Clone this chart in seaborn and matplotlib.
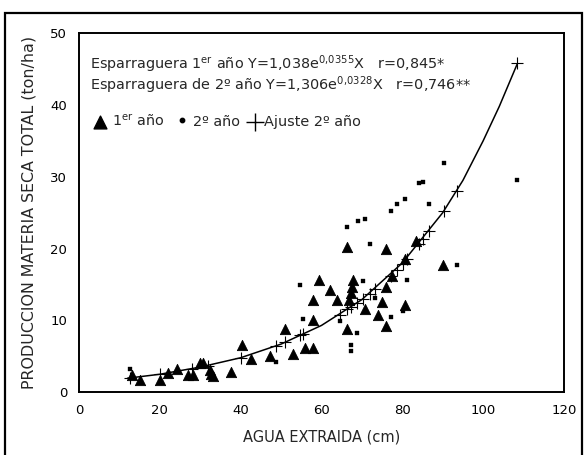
import numpy as np
import pandas as pd
import matplotlib
matplotlib.use("Agg")
import matplotlib.pyplot as plt
import seaborn as sns
from matplotlib.patches import Rectangle

# 1er año (triangles)
x_1 = [13.0, 15.1, 20.0, 22.1, 24.2, 27.0, 28.3, 30.0, 30.8, 32.4, 32.6, 33.2,
       37.6, 40.3, 42.6, 47.3, 51.0, 53.0, 55.9, 58.0, 57.8, 57.8, 59.5, 62.2,
       63.8, 66.3, 66.4, 66.7, 67.5, 67.7, 67.2, 70.8, 73.9, 74.9, 76.0, 76.0,
       76.0, 77.4, 80.7, 80.7, 83.5, 90.0]
y_1 = [2.4, 1.7, 1.7, 2.7, 3.3, 2.4, 2.4, 4.1, 4.0, 3.1, 2.6, 2.2,
       2.8, 6.6, 4.6, 5.1, 8.8, 5.3, 6.2, 6.2, 10.0, 12.8, 15.6, 14.2,
       12.9, 20.2, 8.8, 12.9, 14.6, 15.6, 13.8, 11.6, 10.8, 12.5, 20.0, 14.7,
       9.2, 16.2, 18.6, 12.2, 21.0, 17.7]

# 2º año (small squares)
x_2 = [12.6, 48.8, 54.6, 55.4, 64.5, 66.3, 67.2, 67.2, 68.8, 69.0, 70.2, 70.7,
       72.0, 73.2, 77.2, 77.2, 78.8, 80.1, 80.6, 81.1, 84.2, 85.2, 86.5, 90.3,
       93.5, 108.5]
y_2 = [3.3, 4.2, 14.9, 10.2, 9.9, 23.0, 6.6, 5.8, 8.25, 23.8, 15.5, 24.1,
       20.7, 13.1, 10.5, 25.3, 26.2, 11.3, 26.9, 15.6, 29.1, 29.3, 26.2, 31.9,
       17.7, 29.6]

# Ajuste 2º año (crosses on the curve)
x_fit = [12.6, 20.0, 28.0, 32.0, 40.0, 48.8, 51.0, 54.6, 55.4, 64.5, 66.3, 67.2,
         68.8, 70.2, 72.0, 73.2, 77.2, 78.8, 80.1, 81.1, 84.2, 85.2, 86.5, 90.3,
         93.5, 108.5]
y_fit = [2.0, 2.5, 3.3, 3.7, 4.8, 6.5, 7.0, 7.9, 8.1, 10.8, 11.6, 11.9,
         12.4, 13.0, 13.7, 14.4, 16.2, 17.0, 17.9, 18.6, 20.7, 21.4, 22.5, 25.2,
         28.0, 45.8]

# fitted curve read along its length
x_curve = [12.0, 20.0, 30.0, 40.0, 50.0, 60.0, 70.0, 80.0, 90.0, 95.0, 100.0, 104.0, 108.5]
y_curve = [1.95, 2.5, 3.5, 4.8, 6.7, 9.3, 12.9, 18.0, 25.0, 29.5, 35.0, 39.8, 45.8]

df1 = pd.DataFrame({"x": x_1, "y": y_1})
df2 = pd.DataFrame({"x": x_2, "y": y_2})
dff = pd.DataFrame({"x": x_fit, "y": y_fit})
dfc = pd.DataFrame({"x": x_curve, "y": y_curve})

sns.set_style("white")
plt.rcParams["font.family"] = ["DejaVu Sans"]
plt.rcParams["mathtext.default"] = "regular"

fig = plt.figure(figsize=(5.85, 4.55), dpi=100)
ax = fig.add_axes([0.135, 0.138, 0.829, 0.789])

sns.lineplot(data=dfc, x="x", y="y", color="black", lw=1.1, ax=ax, sort=True)
sns.scatterplot(data=df1, x="x", y="y", marker="^", s=55, color="black",
                edgecolor="black", ax=ax)
sns.scatterplot(data=df2, x="x", y="y", marker="s", s=9, color="black",
                edgecolor="black", ax=ax)
sns.scatterplot(data=dff, x="x", y="y", marker="+", s=85, color="black",
                linewidth=0.8, ax=ax)

ax.set_xlim(0, 120)
ax.set_ylim(0, 50)
ax.set_xticks([0, 20, 40, 60, 80, 100, 120])
ax.set_yticks([0, 10, 20, 30, 40, 50])
ax.tick_params(direction="out", length=5, width=1, labelsize=9.5, colors="black")
for sp in ax.spines.values():
    sp.set_linewidth(1.4)
    sp.set_color("black")

xlab = ax.set_xlabel("AGUA EXTRAIDA (cm)", fontsize=9.5, labelpad=9)
ylab = ax.set_ylabel("PRODUCCION MATERIA SECA TOTAL (ton/ha)", fontsize=9, labelpad=10)

l1 = ax.text(2.7, 45.7, r"Esparraguera 1$^{er}$ año Y=1,038e$^{0{,}0355}$X   r=0,845*",
             fontsize=10, va="center")
l2 = ax.text(2.7, 42.7, r"Esparraguera de 2º año Y=1,306e$^{0{,}0328}$X   r=0,746**",
             fontsize=10, va="center")

# size texts to the extents measured on the reference
rend = fig.canvas.get_renderer()
fs = min(10.5, 10 * 380 / l2.get_window_extent(rend).width)
l1.set_fontsize(fs)
l2.set_fontsize(fs)
ylab.set_fontsize(9 * 355 / ylab.get_window_extent(rend).height)
xlab.set_fontsize(9.5 * 158 / xlab.get_window_extent(rend).width)

# legend row, laid out left to right in pixels
ly = 37.7
to_data = ax.transData.inverted()
ypx = ax.transData.transform((0, ly))[1]


def px2x(px):
    return to_data.transform((px, ypx))[0]


ax.scatter([px2x(100)], [ly], marker="^", s=85, color="black")
t = ax.text(px2x(112), ly, r"1$^{er}$ año", fontsize=fs, va="center")
end = t.get_window_extent(rend).x1
ax.scatter([px2x(end + 18)], [ly + 0.25], marker="o", s=10, color="black")
t = ax.text(px2x(end + 29), ly, "2º año", fontsize=fs, va="center")
end = t.get_window_extent(rend).x1
ax.scatter([px2x(end + 15)], [ly], marker="+", s=170, color="black", linewidth=1)
ax.text(px2x(end + 24), ly, "Ajuste 2º año", fontsize=fs, va="center")

# outer frame of the figure
fig.patches.append(Rectangle((5 / 585, -0.02), 577 / 585, 1 - 13 / 455 + 0.02,
                             transform=fig.transFigure, fill=False,
                             edgecolor="black", linewidth=1.6))

fig.savefig("out.png", dpi=100)
